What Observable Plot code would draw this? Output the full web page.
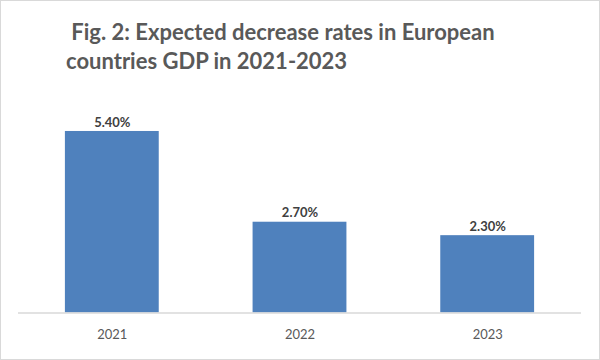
<!DOCTYPE html>
<html>
<head>
<meta charset="utf-8">
<script src="https://cdn.jsdelivr.net/npm/d3@7"></script>
<script src="https://cdn.jsdelivr.net/npm/@observablehq/plot@0.6"></script>
<style>
  html, body { margin: 0; padding: 0; background: #fff; }
  #wrap { position: relative; width: 600px; height: 360px; box-sizing: border-box; border: 1px solid #d9d9d9; overflow: hidden; font-family: Lato, "Open Sans", sans-serif; }
  #title { position: absolute; left: 65px; top: 16px; font-size: 22px; font-weight: bold; color: #595959; line-height: 29px; white-space: pre; }
  #chart { position: absolute; left: -1px; top: -1px; }
</style>
</head>
<body>
<div id="wrap">
  <div id="title"> Fig. 2: Expected decrease rates in European
countries GDP in 2021-2023</div>
  <div id="chart"></div>
</div>
<script>
const years = ["2021", "2022", "2023"];
const rates = [5.40, 2.70, 2.30];
const labels = ["5.40%", "2.70%", "2.30%"];

const data = years.map((y, i) => ({year: y, rate: rates[i], label: labels[i]}));

const plot = Plot.plot({
  width: 600,
  height: 360,
  marginLeft: 18,
  marginRight: 18,
  marginTop: 111,
  marginBottom: 47,
  style: {fontFamily: "Lato, 'Open Sans', sans-serif", background: "transparent"},
  x: {domain: years, paddingInner: 0.5, paddingOuter: 0.25, label: null},
  y: {domain: [0, 6], axis: null},
  marks: [
    Plot.barY(data, {x: "year", y: "rate", fill: "#4F81BD"}),
    Plot.ruleY([0], {stroke: "#d9d9d9", strokeWidth: 1.5}),
    Plot.text(data, {x: "year", y: "rate", text: "label", dy: -9, fontSize: 13, fontWeight: "bold", fill: "#404040"}),
    Plot.axisX({tickSize: 0, tickPadding: 17, fontSize: 13, color: "#595959", label: null})
  ]
});
document.getElementById("chart").appendChild(plot);
</script>
</body>
</html>
